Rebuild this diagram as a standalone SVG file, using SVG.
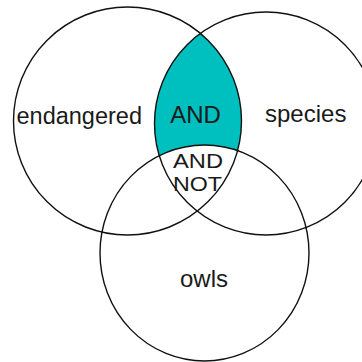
<svg xmlns="http://www.w3.org/2000/svg" width="362" height="362" viewBox="0 0 362 362">
<style>
.c{fill:none;stroke:#111;stroke-width:1.4}
.t{font-family:"Liberation Sans",Arial,sans-serif;font-size:24px;fill:#1a1a1a}
.s{font-size:21px}
</style>
<rect width="362" height="362" fill="#fff"/>
<g id="and-region">
<path d="M200.4 33.3 A111.5 111.5 0 0 0 159.3 155.7 A104.5 108 0 0 1 237.5 150.6 A114 114 0 0 0 200.4 33.3 Z" fill="#00BFBF"/>
</g>
<g id="endangered">
<circle class="c" cx="127.5" cy="121" r="114"/>
<text class="t" x="16.5" y="124" style="font-size:23.5px">endangered</text>
</g>
<g id="species">
<circle class="c" cx="266" cy="123.5" r="111.5"/>
<text class="t" x="265" y="122">species</text>
</g>
<g id="owls">
<ellipse class="c" cx="204.5" cy="253" rx="104.5" ry="108"/>
<text class="t" x="180" y="287">owls</text>
</g>
<g id="and-label">
<text class="t" x="195.5" y="122.5" text-anchor="middle">AND</text>
</g>
<g id="and-not-label">
<text class="t s" x="173" y="167.5" textLength="50" lengthAdjust="spacingAndGlyphs">AND</text>
<text class="t s" x="173" y="190.5" textLength="49" lengthAdjust="spacingAndGlyphs">NOT</text>
</g>
</svg>
